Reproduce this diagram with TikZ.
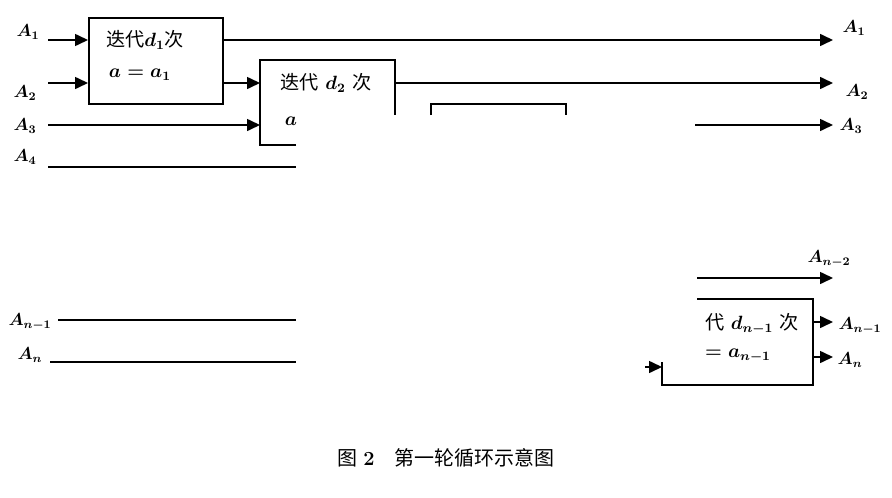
\documentclass[tikz,border=0pt]{standalone}
\usepackage{fontspec}
\usepackage{graphicx}
\newfontfamily\cjk{Noto Sans CJK SC}
\usetikzlibrary{arrows.meta}
\newcommand{\lbx}[1]{\scalebox{1.45}{\boldmath\large #1}}
\newcommand{\tbx}[1]{\scalebox{1.6}{\boldmath\large #1}}
\begin{document}
\begin{tikzpicture}[x=1pt,y=-1pt,
  ln/.style={line width=1.6pt},
  ar/.style={ln,-{Triangle[length=13pt,width=12pt]}},
  bx/.style={draw,line width=1.6pt},
  lb/.style={inner sep=0pt},
  tx/.style={inner sep=0pt}]
\useasboundingbox (0,0) rectangle (892,498);
% box1
\node[bx,minimum width=134pt,minimum height=86pt,anchor=north west] (b1) at (88,17) {};
\node[tx] (t1) at (145,40) {\tbx{{\cjk 迭代}$d_1${\cjk 次}}};
\node[tx] (t1b) at (140,75) {\tbx{$a=a_1$}};
% box2 partial
\coordinate (b2a) at (296,145); \coordinate (b2b) at (260,145);
\coordinate (b2c) at (260,60); \coordinate (b2d) at (395,60); \coordinate (b2e) at (395,115);
\draw[ln] (b2a) -- (b2b) -- (b2c) -- (b2d) -- (b2e);
\node[tx] (t2) at (326,83) {\tbx{{\cjk 迭代} $d_2$ {\cjk 次}}};
\node[tx] (t2b) at (291,121) {\tbx{$a$}};
% box3 partial
\coordinate (b3a) at (431,115); \coordinate (b3b) at (431,104);
\coordinate (b3c) at (566,104); \coordinate (b3d) at (566,115);
\draw[ln] (b3a) -- (b3b) -- (b3c) -- (b3d);
% left labels
\node[lb] (A1) at (28,32) {\lbx{$A_1$}};
\node[lb] (A2) at (25,93) {\lbx{$A_2$}};
\node[lb] (A3) at (25,126) {\lbx{$A_3$}};
\node[lb] (A4) at (25,157) {\lbx{$A_4$}};
\node[lb] (An1) at (30,322) {\lbx{$A_{n-1}$}};
\node[lb] (An) at (30,355) {\lbx{$A_n$}};
% right labels
\node[lb] (R1) at (854,28) {\lbx{$A_1$}};
\node[lb] (R2) at (857,92) {\lbx{$A_2$}};
\node[lb] (R3) at (851,126) {\lbx{$A_3$}};
\node[lb] (Rn2) at (829,259) {\lbx{$A_{n-2}$}};
\node[lb] (Rn1) at (860,326) {\lbx{$A_{n-1}$}};
\node[lb] (Rn) at (850,360) {\lbx{$A_n$}};
% lines
\coordinate (l1s) at (48,40); \coordinate (l1e) at (88,40);
\draw[ar] (l1s) -- (l1e);
\coordinate (l1r) at (222,40); \coordinate (l1t) at (833,40);
\draw[ar] (l1r) -- (l1t);
\coordinate (l2s) at (48,83); \coordinate (l2e) at (88,83);
\draw[ar] (l2s) -- (l2e);
\coordinate (l2m) at (222,83); \coordinate (l2n) at (260,83);
\draw[ar] (l2m) -- (l2n);
\coordinate (l2r) at (395,83); \coordinate (l2t) at (833,83);
\draw[ar] (l2r) -- (l2t);
\coordinate (l3s) at (48,125); \coordinate (l3e) at (260,125);
\draw[ar] (l3s) -- (l3e);
\coordinate (l3r) at (695,125); \coordinate (l3t) at (833,125);
\draw[ar] (l3r) -- (l3t);
\coordinate (l4s) at (48,167); \coordinate (l4e) at (296,167);
\draw[ln] (l4s) -- (l4e);
\coordinate (ln1s) at (58,320); \coordinate (ln1e) at (296,320);
\draw[ln] (ln1s) -- (ln1e);
\coordinate (lns) at (50,362); \coordinate (lne) at (296,362);
\draw[ln] (lns) -- (lne);
\coordinate (lnr) at (645,367); \coordinate (lnt) at (662,367);
\draw[ar] (lnr) -- (lnt);
\coordinate (ln2s) at (697,278); \coordinate (ln2e) at (833,278);
\draw[ar] (ln2s) -- (ln2e);
% last box partial
\coordinate (bla) at (697,299); \coordinate (blb) at (813,299);
\coordinate (blc) at (813,385); \coordinate (bld) at (662,385); \coordinate (ble) at (662,362);
\draw[ln] (bla) -- (blb) -- (blc) -- (bld) -- (ble);
\node[tx] (tl) at (752,324) {\tbx{{\cjk 代} $d_{n-1}$ {\cjk 次}}};
\node[tx] (tlb) at (738,356) {\tbx{$=a_{n-1}$}};
\coordinate (o1s) at (813,322); \coordinate (o1e) at (833,322);
\draw[ar] (o1s) -- (o1e);
\coordinate (o2s) at (813,357); \coordinate (o2e) at (833,357);
\draw[ar] (o2s) -- (o2e);
% caption
\node[font=\fontsize{20}{22}\selectfont] (cap) at (446,458) {{\cjk 图} \textbf{2}\quad{\cjk 第一轮循环示意图}};
\end{tikzpicture}
\end{document}
